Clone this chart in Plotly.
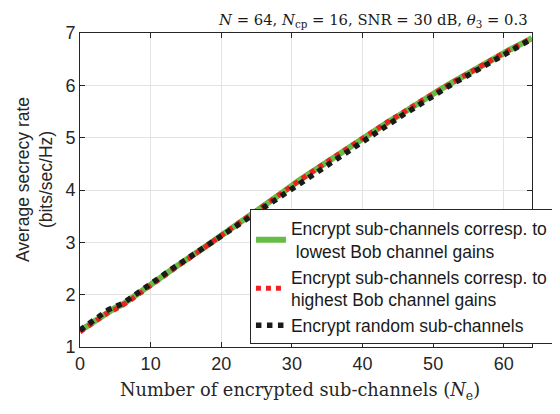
import plotly.graph_objects as go

n_enc = list(range(0, 65))

rate_lowest = [1.31, 1.40, 1.50, 1.60, 1.69, 1.75, 1.81, 1.90, 2.00, 2.10,
               2.20, 2.29, 2.38, 2.48, 2.58, 2.67, 2.76, 2.85, 2.94, 3.04,
               3.14, 3.24, 3.34, 3.42, 3.51, 3.60, 3.69, 3.78, 3.88, 3.98,
               4.08, 4.18, 4.27, 4.36, 4.44, 4.53, 4.63, 4.73, 4.81, 4.90,
               4.99, 5.08, 5.17, 5.26, 5.33, 5.41, 5.50, 5.58, 5.67, 5.76,
               5.84, 5.92, 6.00, 6.08, 6.15, 6.23, 6.30, 6.38, 6.46, 6.54,
               6.62, 6.69, 6.76, 6.83, 6.90]

rate_highest = [1.29, 1.38, 1.48, 1.57, 1.66, 1.72, 1.79, 1.88, 1.98, 2.08,
                2.18, 2.27, 2.36, 2.46, 2.56, 2.65, 2.75, 2.84, 2.93, 3.03,
                3.13, 3.23, 3.33, 3.42, 3.51, 3.60, 3.69, 3.79, 3.89, 3.98,
                4.08, 4.18, 4.27, 4.36, 4.45, 4.54, 4.64, 4.73, 4.82, 4.91,
                5.00, 5.09, 5.18, 5.26, 5.34, 5.42, 5.51, 5.59, 5.68, 5.76,
                5.84, 5.92, 6.00, 6.08, 6.16, 6.23, 6.31, 6.38, 6.46, 6.54,
                6.62, 6.69, 6.76, 6.83, 6.90]

rate_random = [1.32, 1.42, 1.52, 1.62, 1.71, 1.77, 1.83, 1.92, 2.02, 2.11,
               2.21, 2.30, 2.39, 2.49, 2.58, 2.67, 2.76, 2.85, 2.94, 3.03,
               3.13, 3.22, 3.32, 3.40, 3.49, 3.57, 3.66, 3.75, 3.84, 3.94,
               4.04, 4.13, 4.22, 4.31, 4.40, 4.49, 4.58, 4.68, 4.76, 4.85,
               4.94, 5.03, 5.12, 5.21, 5.29, 5.37, 5.46, 5.54, 5.63, 5.71,
               5.80, 5.88, 5.96, 6.05, 6.12, 6.20, 6.28, 6.36, 6.44, 6.52,
               6.60, 6.68, 6.75, 6.82, 6.89]

names = ["Encrypt sub-channels corresp. to<br> lowest Bob channel gains",
         "Encrypt sub-channels corresp. to<br>highest Bob channel gains",
         "Encrypt random sub-channels"]

x_ticks = [0, 10, 20, 30, 40, 50, 60]
y_ticks = [1, 2, 3, 4, 5, 6, 7]

axis_col = "#262626"
grid_col = "#e3e3e3"
serif = "DejaVu Serif, Liberation Serif, serif"

fig = go.Figure()
fig.add_trace(go.Scatter(x=n_enc, y=rate_lowest, mode="lines", name=names[0],
                         line=dict(color="#66bd45", width=6)))
fig.add_trace(go.Scatter(x=n_enc, y=rate_highest, mode="lines", name=names[1],
                         line=dict(color="#f02020", width=5, dash="dot")))
fig.add_trace(go.Scatter(x=n_enc, y=rate_random, mode="lines", name=names[2],
                         line=dict(color="#1a1a1a", width=5.5, dash="dot")))

# page body has an 8px margin: figure is sized/offset to compensate
fig.update_layout(
    width=552, height=406,
    margin=dict(l=72, r=28, t=25, b=67, autoexpand=False),
    paper_bgcolor="white", plot_bgcolor="white",
    font=dict(family="Liberation Sans, Arial, sans-serif", size=18, color=axis_col),
    showlegend=True,
    legend=dict(x=0.376, xanchor="left", y=0.008, yanchor="bottom",
                bgcolor="white", bordercolor=axis_col, borderwidth=1,
                font=dict(size=17.5, color="#1a1a1a"),
                tracegroupgap=0, itemwidth=30),
    annotations=[
        dict(text="<i>N</i> = 64, <i>N</i><sub>cp</sub> = 16, SNR = 30 dB, <i>θ</i><sub>3</sub> = 0.3",
             x=0.996, xref="paper", xanchor="right",
             y=1, yref="paper", yanchor="bottom", yshift=1,
             showarrow=False,
             font=dict(family=serif, size=14.8, color="#1a1a1a")),
        dict(text="Number of encrypted sub-channels (<i>N</i><sub>e</sub>)",
             x=0.5, xref="paper", xanchor="center", xshift=-6,
             y=0, yref="paper", yanchor="middle", yshift=-44,
             showarrow=False,
             font=dict(family=serif, size=17.8, color="#262626")),
        dict(text="Average secrecy rate<br>(bits/sec/Hz)",
             x=0, xref="paper", xanchor="center", xshift=-46,
             y=0.5, yref="paper", yanchor="middle", yshift=10,
             textangle=-90, showarrow=False,
             font=dict(size=17.5, color="#262626")),
    ],
)

fig.update_xaxes(
    range=[0, 64], tickvals=x_ticks, ticktext=[str(v) for v in x_ticks],
    showgrid=True, gridcolor=grid_col, gridwidth=1,
    showline=True, linecolor=axis_col, linewidth=1, mirror="ticks",
    ticks="inside", ticklen=5, tickcolor=axis_col,
    zeroline=False, automargin=False,
)
fig.update_yaxes(
    range=[1, 7], tickvals=y_ticks, ticktext=[str(v) for v in y_ticks],
    showgrid=True, gridcolor=grid_col, gridwidth=1,
    showline=True, linecolor=axis_col, linewidth=1, mirror="ticks",
    ticks="inside", ticklen=5, tickcolor=axis_col,
    zeroline=False, automargin=False,
)

fig.write_html("out.html")
